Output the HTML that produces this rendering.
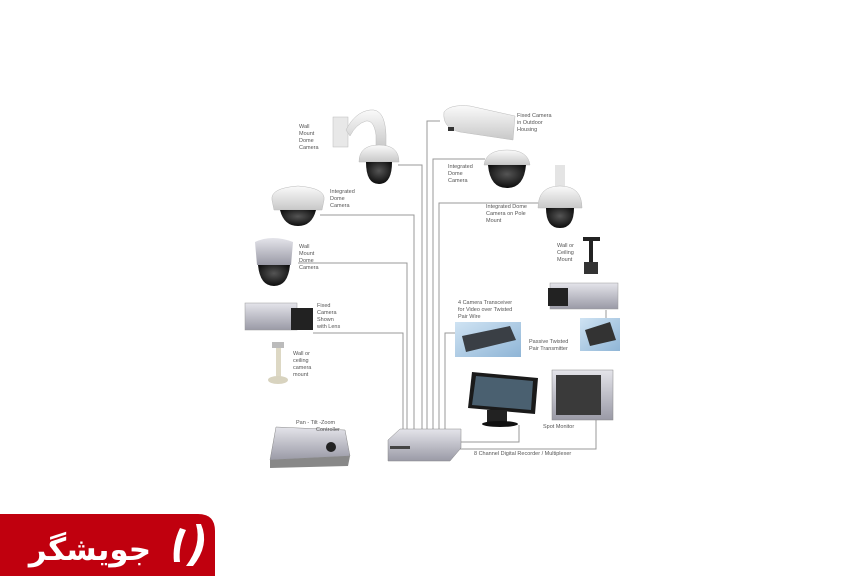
<!DOCTYPE html>
<html><head><meta charset="utf-8"><style>
html,body{margin:0;padding:0;background:#fff;width:864px;height:576px;overflow:hidden}
svg{display:block}
text{font-family:"Liberation Sans",sans-serif;font-size:5.5px;fill:#555}
</style></head><body>
<svg width="864" height="576" viewBox="0 0 864 576">
<defs>
<radialGradient id="dome" cx="50%" cy="40%" r="60%"><stop offset="0" stop-color="#555"/><stop offset="1" stop-color="#0c0c0c"/></radialGradient>
<linearGradient id="wh" x1="0" y1="0" x2="0" y2="1"><stop offset="0" stop-color="#fafafa"/><stop offset="1" stop-color="#c8c8c8"/></linearGradient>
<linearGradient id="gr" x1="0" y1="0" x2="0" y2="1"><stop offset="0" stop-color="#e4e4ea"/><stop offset="1" stop-color="#9a9aa6"/></linearGradient>
<linearGradient id="blu" x1="0" y1="0" x2="1" y2="1"><stop offset="0" stop-color="#cfe3f3"/><stop offset="1" stop-color="#8fb5d6"/></linearGradient>
</defs>
<g fill="none" stroke="#999" stroke-width="1">
<polyline points="313,333 403,333 403,430"/>
<polyline points="298,263 407,263 407,430"/>
<polyline points="320,215 414,215 414,430"/>
<polyline points="398,165 422,165 422,430"/>
<polyline points="440,121 427,121 427,430"/>
<polyline points="485,159 433,159 433,430"/>
<polyline points="540,203 439,203 439,430"/>
<polyline points="458,333 445,333 445,430"/>
<polyline points="460,442 519,442 519,425"/>
<polyline points="460,449 596,449 596,420"/>
<line x1="606" y1="310" x2="606" y2="318"/>
</g>
<rect x="333" y="117" width="15" height="30" fill="#e8e8e8" stroke="#bbb" stroke-width=".5"/>
<path d="M346,130 Q355,112 370,110 Q385,108 386,135 L386,148 L376,148 L376,135 Q374,120 366,121 Q356,124 350,136 Z" fill="url(#wh)" stroke="#bbb" stroke-width=".5"/>
<path d="M359,162 Q359,145 379,145 Q399,145 399,162 Z" fill="url(#wh)" stroke="#bbb" stroke-width=".5"/>
<path d="M366,162 Q366,184 379,184 Q392,184 392,162 Z" fill="url(#dome)"/>
<path d="M444,112 Q450,104 470,106 L515,116 L513,140 L460,132 Q442,128 444,112 Z" fill="url(#wh)" stroke="#bbb" stroke-width=".5"/>
<rect x="448" y="127" width="6" height="4" fill="#333"/>
<path d="M484,165 Q486,150 507,150 Q528,150 530,165 Z" fill="url(#wh)" stroke="#bbb" stroke-width=".5"/>
<path d="M488,165 Q490,188 507,188 Q524,188 526,165 Z" fill="url(#dome)"/>
<rect x="555" y="165" width="10" height="22" fill="#e4e4e4"/>
<path d="M538,208 Q538,186 560,186 Q582,186 582,208 Z" fill="url(#wh)" stroke="#bbb" stroke-width=".5"/>
<path d="M546,208 Q546,228 560,228 Q574,228 574,208 Z" fill="url(#dome)"/>
<path d="M272,200 Q270,188 298,186 Q326,188 324,200 L322,210 L274,210 Z" fill="url(#wh)" stroke="#bbb" stroke-width=".5"/>
<path d="M280,210 Q284,226 298,226 Q312,226 316,210 Z" fill="url(#dome)"/>
<path d="M255,242 Q272,234 293,242 L291,265 L257,265 Z" fill="url(#gr)"/>
<path d="M258,265 Q260,286 274,286 Q288,286 290,265 Z" fill="url(#dome)"/>
<rect x="245" y="303" width="52" height="27" fill="url(#gr)" stroke="#999" stroke-width=".5"/>
<rect x="291" y="308" width="22" height="22" fill="#222"/>
<rect x="276" y="345" width="5" height="32" fill="#ddd8c4"/>
<ellipse cx="278" cy="380" rx="10" ry="4" fill="#d8d3bf"/>
<rect x="272" y="342" width="12" height="6" fill="#bbb"/>
<rect x="583" y="237" width="17" height="4" fill="#222"/>
<rect x="589" y="241" width="4" height="22" fill="#222"/>
<rect x="584" y="262" width="14" height="12" fill="#333"/>
<rect x="550" y="283" width="68" height="26" fill="url(#gr)" stroke="#999" stroke-width=".5"/>
<rect x="548" y="288" width="20" height="18" fill="#222"/>
<rect x="455" y="322" width="66" height="35" fill="url(#blu)"/>
<path d="M462,336 L510,326 L516,340 L466,352 Z" fill="#3a3f45"/>
<rect x="580" y="318" width="40" height="33" fill="url(#blu)"/>
<path d="M585,330 L610,322 L616,340 L590,346 Z" fill="#333"/>
<path d="M472,372 L538,378 L535,414 L468,408 Z" fill="#1a1a1a"/>
<path d="M476,376 L533,381 L531,410 L472,405 Z" fill="#4a6070"/>
<rect x="487" y="410" width="20" height="12" fill="#222"/>
<ellipse cx="500" cy="424" rx="18" ry="3" fill="#111"/>
<rect x="552" y="370" width="61" height="50" fill="url(#gr)" stroke="#888" stroke-width=".5"/>
<rect x="556" y="375" width="45" height="40" fill="#3a3a3a"/>
<path d="M276,427 L345,430 L350,456 L270,460 Z" fill="url(#gr)" stroke="#888" stroke-width=".5"/>
<path d="M270,460 L350,456 L348,466 L270,468 Z" fill="#888"/>
<circle cx="331" cy="447" r="5" fill="#222"/>
<path d="M388,440 L400,429 L461,429 L461,448 L450,461 L388,461 Z" fill="url(#gr)" stroke="#888" stroke-width=".5"/>
<rect x="390" y="446" width="20" height="3" fill="#444"/>
<text x="299" y="128">Wall</text><text x="299" y="135">Mount</text><text x="299" y="142">Dome</text><text x="299" y="149">Camera</text>
<text x="517" y="117">Fixed Camera</text><text x="517" y="124">in Outdoor</text><text x="517" y="131">Housing</text>
<text x="448" y="168">Integrated</text><text x="448" y="175">Dome</text><text x="448" y="182">Camera</text>
<text x="330" y="193">Integrated</text><text x="330" y="200">Dome</text><text x="330" y="207">Camera</text>
<text x="486" y="208">Integrated Dome</text><text x="486" y="215">Camera on Pole</text><text x="486" y="222">Mount</text>
<text x="299" y="248">Wall</text><text x="299" y="255">Mount</text><text x="299" y="262">Dome</text><text x="299" y="269">Camera</text>
<text x="557" y="247">Wall or</text><text x="557" y="254">Ceiling</text><text x="557" y="261">Mount</text>
<text x="458" y="304">4 Camera Transceiver</text><text x="458" y="311">for Video over Twisted</text><text x="458" y="318">Pair Wire</text>
<text x="317" y="307">Fixed</text><text x="317" y="314">Camera</text><text x="317" y="321">Shown</text><text x="317" y="328">with Lens</text>
<text x="529" y="343">Passive Twisted</text><text x="529" y="350">Pair Transmitter</text>
<text x="293" y="355">Wall or</text><text x="293" y="362">ceiling</text><text x="293" y="369">camera</text><text x="293" y="376">mount</text>
<text x="296" y="424">Pan - Tilt -Zoom</text><text x="316" y="431">Controller</text>
<text x="543" y="428">Spot Monitor</text>
<text x="474" y="455">8 Channel Digital Recorder / Multiplexer</text>
<path d="M0,514 L198,514 Q215,514 215,531 L215,576 L0,576 Z" fill="#c0000e"/>
<text x="90" y="560" text-anchor="middle" style="font-family:'DejaVu Sans',sans-serif;font-size:31px;font-weight:bold;fill:#fff">جویشگر</text>
<path d="M180,528 Q172,545 174,562 L180,562 Q178,547 186,530 Z M196,524 Q202,545 186,566 L193,566 Q210,545 201,524 Z" fill="#fff"/>
</svg>
</body></html>
